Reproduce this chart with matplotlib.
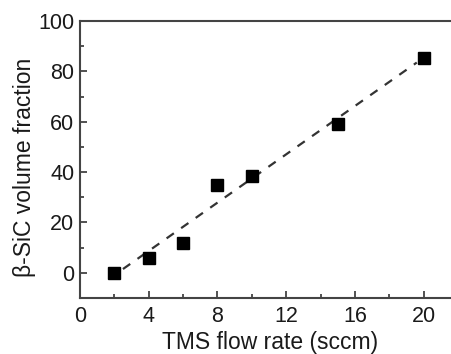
import matplotlib
matplotlib.use("Agg")
import matplotlib.pyplot as plt
from matplotlib.ticker import MultipleLocator

flow_rate = [2, 4, 6, 8, 10, 15, 20]
sic_fraction = [0, 6, 12, 35, 38.5, 59, 85.5]
fit_x = [2.5, 19.6]
fit_y = [1.5, 83.5]

plt.rcParams['font.family'] = ['Liberation Sans', 'DejaVu Sans']
fig = plt.figure(figsize=(4.52, 3.54), dpi=100)
ax = fig.add_axes([80/452, 1-298/354, (458-80)/452, (298-21)/354])

ax.plot(fit_x, fit_y, linestyle=(0, (4, 4)), color='#333333', linewidth=1.6)
ax.plot(flow_rate, sic_fraction, linestyle='none', marker='s', markersize=8.5, color='black')

ax.set_xlim(0, 22)
ax.set_ylim(-10, 100)
ax.xaxis.set_major_locator(MultipleLocator(4))
ax.xaxis.set_minor_locator(MultipleLocator(2))
ax.yaxis.set_major_locator(MultipleLocator(20))
ax.yaxis.set_minor_locator(MultipleLocator(10))
ax.tick_params(which='both', direction='in', top=False, right=False, color='#333333', labelsize=15.5, labelcolor='#1a1a1a')
ax.tick_params(which='major', length=5, width=1.2)
ax.tick_params(which='minor', length=3, width=1.2)
ax.tick_params(axis='x', which='major', pad=6)
ax.tick_params(axis='y', which='major', pad=4)
ax.spines['right'].set_visible(False)
for s in ax.spines.values():
    s.set_color('#444444')
    s.set_linewidth(1.5)
ax.set_xlabel('TMS flow rate (sccm)', fontsize=16.5, color='#1a1a1a')
ax.set_ylabel('β-SiC volume fraction', fontsize=16.5, color='#1a1a1a')
ax.xaxis.set_label_coords(270/452, 1-342/354, transform=fig.transFigure)
ax.xaxis.label.set_va('center')
ax.yaxis.set_label_coords(25/452, 1-167/354, transform=fig.transFigure)
ax.yaxis.label.set_va('center')
ax.yaxis.label.set_rotation_mode('anchor')

fig.savefig('out.png', dpi=100)
